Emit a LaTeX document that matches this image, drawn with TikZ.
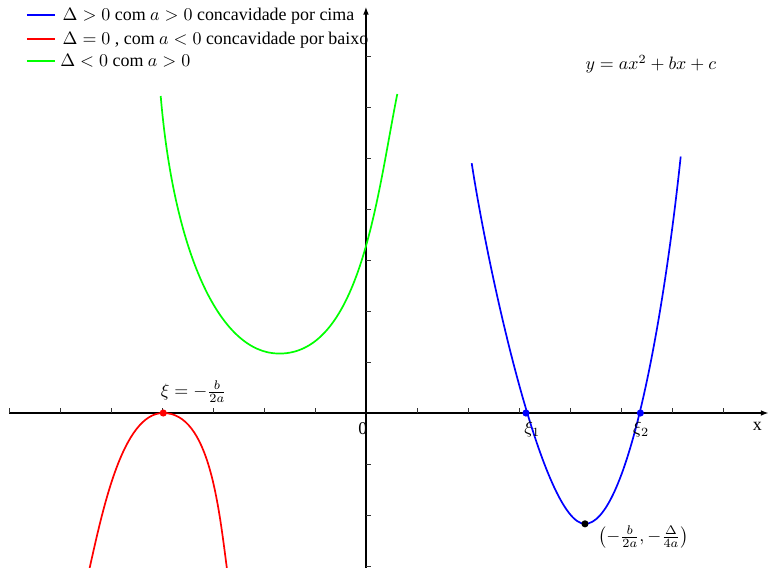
\documentclass[tikz,border=0pt]{standalone}
\usepackage{fontspec}
\setmainfont{Liberation Serif}
\usetikzlibrary{arrows.meta}
\begin{document}
\begin{tikzpicture}[
  axisline/.style={line width=1.1pt, -{Latex[length=4.5pt,width=3.2pt]}},
  tickmark/.style={line width=0.45pt, black!80},
  curve/.style={line width=0.95pt},
  dot/.style={circle, fill=#1, draw=none, inner sep=0pt, minimum size=4pt},
  lbl/.style={inner sep=0pt},
  legtext/.style={anchor=base west, inner sep=0pt}
]
\useasboundingbox (-7.176,-3.020) rectangle (7.922,8.098);

% axes
\coordinate (xstart) at (-7.0,0);
\coordinate (xend) at (7.9,0);
\coordinate (ystart) at (0,-3.1);
\coordinate (yend) at (0,7.97);
\draw[axisline] (xstart) -- (xend);
\draw[axisline] (ystart) -- (yend);

% ticks
\foreach \k in {-7,-6,-5,-4,-3,-2,-1,1,2,3,4,5,6,7}
  \draw[tickmark] (\k,0) -- (\k,0.1);
\foreach \k in {-3,-2,-1,1,2,3,4,5,6,7}
  \draw[tickmark] (0,\k) -- (0.1,\k);

% curve end points and vertices
\coordinate (gL) at (-4.025,6.216);
\coordinate (gV) at (-1.70,1.165);
\coordinate (gR) at (0.614,6.255);
\coordinate (rL) at (-5.43,-3.09);
\coordinate (rV) at (-3.975,0);
\coordinate (rR) at (-2.72,-3.1);
\coordinate (bL) at (2.073,4.898);
\coordinate (bV) at (4.294,-2.173);
\coordinate (bR) at (6.171,5.029);

% green curve
\draw[curve, green] (gL) .. controls (-3.773,3.228) and (-2.9,1.165) .. (gV)
  .. controls (-0.1,1.165) and (0.222,4.293) .. (gR);

% red curve
\draw[curve, red] (rL) .. controls (-5.166,-1.92) and (-4.775,0) .. (rV)
  .. controls (-3.075,0) and (-2.889,-1.813) .. (rR);

% blue curve
\draw[curve, blue] (bL) .. controls (2.423,2.626) and (3.494,-2.173) .. (bV)
  .. controls (5.094,-2.173) and (5.803,1.55) .. (bR);

% points
\node[dot=red] (r0) at (rV) {};
\node[dot=blue] (b1) at (3.137,0) {};
\node[dot=blue] (b2) at (5.38,0) {};
\node[dot=black] (bv) at (bV) {};

% labels
\node[lbl] (lab0) at (-0.059,-0.304) {0};
\node[lbl] (labx) at (7.676,-0.255) {x};
\node[lbl] (labxi1) at (3.262,-0.314) {$\xi_1$};
\node[lbl] (labxi2) at (5.395,-0.314) {$\xi_2$};
\node[lbl] (labxi) at (-3.378,0.42) {$\xi=-\frac{b}{2a}$};
\node[lbl] (labv) at (5.441,-2.431) {$\left(-\frac{b}{2a},-\frac{\Delta}{4a}\right)$};
\node[lbl] (labeq) at (5.585,6.839) {$y=ax^2+bx+c$};

% legend
\draw[curve, blue] (-6.647,7.804) -- (-6.098,7.804);
\draw[curve, red] (-6.647,7.327) -- (-6.098,7.327);
\draw[curve, green] (-6.647,6.908) -- (-6.098,6.908);
\node[legtext] (leg1) at (-5.955,7.692) {$\Delta>0$ com $a>0$ concavidade por cima};
\node[legtext] (leg2) at (-5.955,7.216) {$\Delta=0$ , com $a<0$ concavidade por baixo};
\node[legtext] (leg3) at (-6.0,6.79) {$\Delta<0$ com $a>0$};
\end{tikzpicture}
\end{document}
